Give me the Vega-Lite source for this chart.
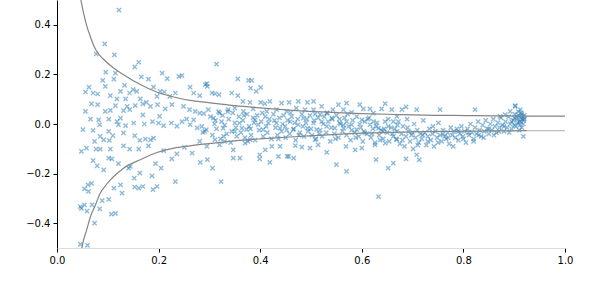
{
  "$schema": "https://vega.github.io/schema/vega-lite/v6.json",
  "width": 508,
  "height": 248,
  "autosize": "none",
  "padding": {"left": 57, "top": 0, "right": 31, "bottom": 50},
  "background": "white",
  "config": {
    "view": {"stroke": null},
    "font": "DejaVu Sans",
    "axis": {
      "grid": false,
      "title": null,
      "labelFont": "DejaVu Sans",
      "labelFontSize": 10,
      "labelColor": "#000000",
      "tickColor": "#000000",
      "tickSize": 4,
      "tickWidth": 1,
      "labelPadding": 3,
      "labelFlush": false,
      "labelOverlap": false
    }
  },
  "datasets": {
    "pts": [
      {"x":0.122,"y":0.459},{"x":0.094,"y":0.323},{"x":0.077,"y":0.283},{"x":0.113,"y":0.279},{"x":0.161,"y":0.249},{"x":0.153,"y":0.23},{"x":0.096,"y":0.209},{"x":0.115,"y":0.205},{"x":0.207,"y":0.205},{"x":0.166,"y":0.19},{"x":0.217,"y":0.183},{"x":0.24,"y":0.192},{"x":0.246,"y":0.195},{"x":0.09,"y":0.176},{"x":0.112,"y":0.181},{"x":0.18,"y":0.181},{"x":0.063,"y":0.149},{"x":0.056,"y":0.129},{"x":0.071,"y":0.125},{"x":0.08,"y":0.121},{"x":0.095,"y":0.152},{"x":0.133,"y":0.156},{"x":0.15,"y":0.139},{"x":0.157,"y":0.132},{"x":0.19,"y":0.149},{"x":0.203,"y":0.132},{"x":0.211,"y":0.129},{"x":0.233,"y":0.125},{"x":0.262,"y":0.149},{"x":0.269,"y":0.125},{"x":0.281,"y":0.114},{"x":0.292,"y":0.159},{"x":0.105,"y":0.114},{"x":0.125,"y":0.132},{"x":0.143,"y":0.125},{"x":0.118,"y":0.101},{"x":0.135,"y":0.101},{"x":0.164,"y":0.101},{"x":0.176,"y":0.087},{"x":0.197,"y":0.111},{"x":0.222,"y":0.111},{"x":0.068,"y":0.081},{"x":0.08,"y":0.078},{"x":0.115,"y":0.074},{"x":0.138,"y":0.071},{"x":0.154,"y":0.074},{"x":0.169,"y":0.081},{"x":0.184,"y":0.071},{"x":0.198,"y":0.078},{"x":0.213,"y":0.061},{"x":0.226,"y":0.078},{"x":0.249,"y":0.071},{"x":0.261,"y":0.058},{"x":0.272,"y":0.051},{"x":0.289,"y":0.042},{"x":0.095,"y":0.051},{"x":0.105,"y":0.055},{"x":0.056,"y":0.051},{"x":0.131,"y":0.054},{"x":0.143,"y":0.058},{"x":0.169,"y":0.037},{"x":0.066,"y":0.02},{"x":0.082,"y":0.017},{"x":0.084,"y":-0.003},{"x":0.071,"y":-0.026},{"x":0.051,"y":-0.023},{"x":0.102,"y":0.02},{"x":0.118,"y":0.01},{"x":0.125,"y":0.024},{"x":0.121,"y":-0.003},{"x":0.135,"y":-0.007},{"x":0.151,"y":0.004},{"x":0.172,"y":0.0},{"x":0.188,"y":0.01},{"x":0.2,"y":0.004},{"x":0.21,"y":-0.007},{"x":0.202,"y":0.031},{"x":0.225,"y":0.004},{"x":0.236,"y":-0.009},{"x":0.246,"y":0.01},{"x":0.255,"y":0.02},{"x":0.262,"y":-0.003},{"x":0.269,"y":0.017},{"x":0.276,"y":-0.016},{"x":0.287,"y":-0.034},{"x":0.294,"y":-0.023},{"x":0.102,"y":-0.03},{"x":0.085,"y":-0.05},{"x":0.092,"y":-0.064},{"x":0.074,"y":-0.07},{"x":0.103,"y":-0.066},{"x":0.11,"y":-0.047},{"x":0.131,"y":-0.036},{"x":0.153,"y":-0.047},{"x":0.163,"y":-0.066},{"x":0.174,"y":-0.061},{"x":0.184,"y":-0.064},{"x":0.19,"y":-0.057},{"x":0.18,"y":-0.088},{"x":0.143,"y":-0.101},{"x":0.161,"y":-0.101},{"x":0.131,"y":-0.088},{"x":0.105,"y":-0.101},{"x":0.085,"y":-0.101},{"x":0.077,"y":-0.101},{"x":0.048,"y":-0.11},{"x":0.058,"y":-0.097},{"x":0.21,"y":-0.107},{"x":0.226,"y":-0.141},{"x":0.251,"y":-0.094},{"x":0.236,"y":-0.12},{"x":0.266,"y":-0.117},{"x":0.282,"y":-0.155},{"x":0.102,"y":-0.138},{"x":0.108,"y":-0.141},{"x":0.071,"y":-0.148},{"x":0.079,"y":-0.169},{"x":0.092,"y":-0.185},{"x":0.121,"y":-0.16},{"x":0.141,"y":-0.178},{"x":0.144,"y":-0.171},{"x":0.194,"y":-0.16},{"x":0.205,"y":-0.178},{"x":0.187,"y":-0.209},{"x":0.163,"y":-0.198},{"x":0.152,"y":-0.218},{"x":0.233,"y":-0.232},{"x":0.197,"y":-0.252},{"x":0.189,"y":-0.265},{"x":0.161,"y":-0.259},{"x":0.153,"y":-0.254},{"x":0.169,"y":-0.252},{"x":0.125,"y":-0.245},{"x":0.128,"y":-0.279},{"x":0.112,"y":-0.259},{"x":0.068,"y":-0.239},{"x":0.061,"y":-0.245},{"x":0.062,"y":-0.272},{"x":0.054,"y":-0.262},{"x":0.069,"y":-0.326},{"x":0.054,"y":-0.326},{"x":0.046,"y":-0.333},{"x":0.048,"y":-0.34},{"x":0.084,"y":-0.342},{"x":0.102,"y":-0.304},{"x":0.089,"y":-0.309},{"x":0.059,"y":-0.351},{"x":0.107,"y":-0.363},{"x":0.115,"y":-0.36},{"x":0.074,"y":-0.4},{"x":0.046,"y":-0.485},{"x":0.06,"y":-0.489},
      {"x":0.314,"y":0.241},{"x":0.295,"y":0.163},{"x":0.296,"y":0.152},{"x":0.356,"y":0.182},{"x":0.377,"y":0.176},{"x":0.383,"y":0.176},{"x":0.381,"y":0.145},{"x":0.392,"y":0.132},{"x":0.401,"y":0.148},{"x":0.305,"y":0.125},{"x":0.311,"y":0.122},{"x":0.319,"y":0.118},{"x":0.344,"y":0.125},{"x":0.356,"y":0.114},{"x":0.366,"y":0.091},{"x":0.38,"y":0.087},{"x":0.401,"y":0.087},{"x":0.409,"y":0.082},{"x":0.419,"y":0.091},{"x":0.442,"y":0.084},{"x":0.457,"y":0.087},{"x":0.475,"y":0.091},{"x":0.493,"y":0.087},{"x":0.505,"y":0.091},{"x":0.521,"y":0.071},{"x":0.554,"y":0.078},{"x":0.57,"y":0.084},{"x":0.596,"y":0.078},{"x":0.616,"y":0.061},{"x":0.646,"y":0.082},{"x":0.659,"y":0.058},{"x":0.281,"y":0.044},{"x":0.298,"y":0.058},{"x":0.32,"y":0.044},{"x":0.337,"y":0.058},{"x":0.35,"y":0.064},{"x":0.367,"y":0.051},{"x":0.386,"y":0.061},{"x":0.413,"y":0.051},{"x":0.432,"y":0.058},{"x":0.452,"y":0.051},{"x":0.471,"y":0.064},{"x":0.488,"y":0.058},{"x":0.505,"y":0.058},{"x":0.518,"y":0.038},{"x":0.531,"y":0.044},{"x":0.543,"y":0.058},{"x":0.564,"y":0.058},{"x":0.58,"y":0.047},{"x":0.603,"y":0.061},{"x":0.623,"y":0.044},{"x":0.639,"y":0.061},{"x":0.669,"y":0.031},
      {"x":0.285,"y":-0.01},{"x":0.291,"y":-0.03},{"x":0.308,"y":0.024},{"x":0.324,"y":0.01},{"x":0.327,"y":-0.017},{"x":0.344,"y":-0.03},{"x":0.35,"y":-0.03},{"x":0.359,"y":0.004},{"x":0.364,"y":-0.017},{"x":0.373,"y":-0.023},{"x":0.381,"y":-0.02},{"x":0.39,"y":0.017},{"x":0.396,"y":-0.003},{"x":0.406,"y":-0.023},{"x":0.416,"y":0.004},{"x":0.432,"y":0.004},{"x":0.439,"y":-0.017},{"x":0.449,"y":-0.01},{"x":0.459,"y":0.01},{"x":0.465,"y":-0.023},{"x":0.475,"y":-0.003},{"x":0.485,"y":0.024},{"x":0.493,"y":-0.017},{"x":0.505,"y":0.004},{"x":0.511,"y":-0.023},{"x":0.521,"y":0.01},{"x":0.531,"y":-0.01},{"x":0.541,"y":0.024},{"x":0.547,"y":-0.017},{"x":0.556,"y":0.004},{"x":0.564,"y":-0.017},{"x":0.57,"y":0.01},{"x":0.58,"y":-0.003},{"x":0.59,"y":-0.023},{"x":0.6,"y":0.017},{"x":0.606,"y":-0.036},{"x":0.616,"y":-0.003},{"x":0.623,"y":0.01},{"x":0.633,"y":-0.017},{"x":0.642,"y":-0.03},{"x":0.652,"y":-0.01},{"x":0.662,"y":0.01},{"x":0.669,"y":-0.03},
      {"x":0.281,"y":-0.07},{"x":0.295,"y":-0.09},{"x":0.311,"y":-0.063},{"x":0.32,"y":-0.084},{"x":0.33,"y":-0.07},{"x":0.347,"y":-0.104},{"x":0.36,"y":-0.138},{"x":0.37,"y":-0.077},{"x":0.38,"y":-0.063},{"x":0.399,"y":-0.124},{"x":0.41,"y":-0.104},{"x":0.423,"y":-0.09},{"x":0.436,"y":-0.131},{"x":0.439,"y":-0.09},{"x":0.456,"y":-0.131},{"x":0.469,"y":-0.087},{"x":0.482,"y":-0.093},{"x":0.498,"y":-0.097},{"x":0.508,"y":-0.063},{"x":0.514,"y":-0.084},{"x":0.531,"y":-0.114},{"x":0.55,"y":-0.164},{"x":0.57,"y":-0.191},{"x":0.569,"y":-0.09},{"x":0.587,"y":-0.104},{"x":0.6,"y":-0.097},{"x":0.626,"y":-0.084},{"x":0.628,"y":-0.144},{"x":0.646,"y":-0.077},{"x":0.652,"y":-0.178},{"x":0.662,"y":-0.158},{"x":0.669,"y":-0.063},{"x":0.633,"y":-0.293},{"x":0.306,"y":-0.178},{"x":0.323,"y":-0.232},{"x":0.347,"y":-0.138},{"x":0.399,"y":-0.141},{"x":0.419,"y":-0.155},{"x":0.453,"y":-0.131},{"x":0.466,"y":-0.138},{"x":0.296,"y":-0.144},
      {"x":0.302,"y":0.03},{"x":0.306,"y":-0.045},{"x":0.31,"y":0.0},{"x":0.314,"y":-0.02},{"x":0.318,"y":0.05},{"x":0.322,"y":-0.06},{"x":0.326,"y":0.035},{"x":0.33,"y":-0.005},{"x":0.334,"y":-0.04},{"x":0.338,"y":0.02},{"x":0.342,"y":-0.075},{"x":0.346,"y":0.045},{"x":0.35,"y":0.005},{"x":0.354,"y":-0.05},{"x":0.358,"y":0.03},{"x":0.362,"y":-0.035},{"x":0.366,"y":0.015},{"x":0.37,"y":-0.055},{"x":0.374,"y":0.04},{"x":0.378,"y":-0.01},{"x":0.382,"y":-0.045},{"x":0.386,"y":0.025},{"x":0.39,"y":-0.065},{"x":0.394,"y":0.035},{"x":0.398,"y":-0.025},{"x":0.402,"y":0.01},{"x":0.406,"y":-0.05},{"x":0.41,"y":0.03},{"x":0.414,"y":-0.035},{"x":0.418,"y":0.02},{"x":0.422,"y":-0.06},{"x":0.426,"y":0.04},{"x":0.43,"y":-0.015},{"x":0.434,"y":-0.045},{"x":0.438,"y":0.025},{"x":0.442,"y":-0.03},{"x":0.446,"y":0.035},{"x":0.45,"y":-0.055},{"x":0.454,"y":0.015},{"x":0.458,"y":-0.04},{"x":0.462,"y":0.03},{"x":0.466,"y":-0.02},{"x":0.47,"y":-0.065},{"x":0.474,"y":0.02},{"x":0.478,"y":-0.035},{"x":0.482,"y":0.04},{"x":0.486,"y":-0.05},{"x":0.49,"y":0.005},{"x":0.494,"y":-0.03},{"x":0.498,"y":0.035},{"x":0.502,"y":-0.045},{"x":0.506,"y":0.015},{"x":0.51,"y":-0.06},{"x":0.514,"y":0.025},{"x":0.518,"y":-0.025},{"x":0.522,"y":-0.05},{"x":0.526,"y":0.03},{"x":0.53,"y":-0.035},{"x":0.534,"y":0.01},{"x":0.538,"y":-0.07},{"x":0.542,"y":0.02},{"x":0.546,"y":-0.04},{"x":0.55,"y":0.035},{"x":0.554,"y":-0.055},{"x":0.558,"y":0.0},{"x":0.562,"y":-0.03},{"x":0.566,"y":0.025},{"x":0.57,"y":-0.045},{"x":0.574,"y":-0.01},{"x":0.578,"y":-0.065},{"x":0.582,"y":0.015},{"x":0.586,"y":-0.035},{"x":0.59,"y":0.03},{"x":0.594,"y":-0.05},{"x":0.598,"y":-0.015},{"x":0.602,"y":-0.07},{"x":0.606,"y":0.01},{"x":0.61,"y":-0.04},{"x":0.614,"y":0.025},{"x":0.618,"y":-0.055},{"x":0.622,"y":-0.02},{"x":0.626,"y":-0.075},{"x":0.63,"y":0.005},{"x":0.634,"y":-0.045},{"x":0.638,"y":-0.025},{"x":0.642,"y":-0.06},{"x":0.646,"y":0.01},{"x":0.65,"y":-0.035},{"x":0.654,"y":-0.07},{"x":0.658,"y":-0.015},{"x":0.662,"y":-0.05},
      {"x":0.312,"y":0.015},{"x":0.328,"y":-0.05},{"x":0.336,"y":0.05},{"x":0.352,"y":-0.015},{"x":0.368,"y":0.035},{"x":0.376,"y":-0.07},{"x":0.388,"y":0.005},{"x":0.404,"y":0.045},{"x":0.412,"y":-0.01},{"x":0.428,"y":0.015},{"x":0.436,"y":-0.06},{"x":0.444,"y":0.0},{"x":0.452,"y":-0.025},{"x":0.46,"y":0.045},{"x":0.468,"y":0.005},{"x":0.476,"y":-0.045},{"x":0.484,"y":-0.01},{"x":0.492,"y":0.02},{"x":0.5,"y":-0.02},{"x":0.508,"y":0.04},{"x":0.516,"y":-0.04},{"x":0.524,"y":0.0},{"x":0.532,"y":0.045},{"x":0.54,"y":-0.015},{"x":0.548,"y":-0.06},{"x":0.556,"y":0.02},{"x":0.564,"y":-0.005},{"x":0.572,"y":0.04},{"x":0.58,"y":-0.025},{"x":0.588,"y":-0.055},{"x":0.596,"y":0.0},{"x":0.604,"y":-0.03},{"x":0.612,"y":0.02},{"x":0.62,"y":-0.04},{"x":0.628,"y":-0.01},{"x":0.636,"y":-0.065},{"x":0.644,"y":-0.02},{"x":0.652,"y":0.02},{"x":0.66,"y":-0.04},{"x":0.67,"y":-0.005},{"x":0.68,"y":-0.065},{"x":0.69,"y":-0.015},{"x":0.7,"y":-0.035},{"x":0.71,"y":-0.085},{"x":0.72,"y":-0.045},{"x":0.73,"y":-0.07},{"x":0.74,"y":-0.01},{"x":0.75,"y":-0.075},{"x":0.76,"y":-0.04},{"x":0.77,"y":-0.055},{"x":0.78,"y":-0.09},{"x":0.79,"y":-0.03},{"x":0.8,"y":-0.06},{"x":0.81,"y":-0.035},{"x":0.82,"y":-0.07},{"x":0.83,"y":-0.045},{"x":0.84,"y":-0.055},{"x":0.85,"y":-0.02},{"x":0.86,"y":-0.045},{"x":0.87,"y":-0.03},{"x":0.88,"y":-0.01},{"x":0.89,"y":-0.035},{"x":0.9,"y":-0.005},{"x":0.91,"y":-0.025},{"x":0.915,"y":0.04},{"x":0.92,"y":0.02},
      {"x":0.687,"y":0.069},{"x":0.679,"y":0.058},{"x":0.708,"y":0.058},{"x":0.754,"y":0.058},{"x":0.823,"y":0.058},{"x":0.902,"y":0.071},{"x":0.892,"y":0.051},{"x":0.912,"y":0.058},{"x":0.882,"y":0.038},{"x":0.872,"y":0.031},{"x":0.687,"y":-0.141},{"x":0.708,"y":-0.124},{"x":0.713,"y":-0.145},{"x":0.902,"y":0.074},{"x":0.918,"y":-0.05},
      {"x":0.665,"y":-0.02},{"x":0.668,"y":-0.06},{"x":0.672,"y":0.01},{"x":0.675,"y":-0.08},{"x":0.678,"y":-0.04},{"x":0.681,"y":-0.01},{"x":0.684,"y":-0.09},{"x":0.687,"y":-0.05},{"x":0.689,"y":0.02},{"x":0.692,"y":-0.03},{"x":0.695,"y":-0.07},{"x":0.698,"y":-0.045},{"x":0.701,"y":-0.1},{"x":0.703,"y":0.0},{"x":0.706,"y":-0.055},{"x":0.709,"y":-0.025},{"x":0.712,"y":-0.075},{"x":0.715,"y":-0.04},{"x":0.718,"y":-0.06},{"x":0.721,"y":0.015},{"x":0.724,"y":-0.035},{"x":0.727,"y":-0.085},{"x":0.73,"y":-0.05},{"x":0.733,"y":-0.02},{"x":0.736,"y":-0.065},{"x":0.739,"y":-0.04},{"x":0.742,"y":-0.09},{"x":0.745,"y":-0.03},{"x":0.748,"y":-0.055},{"x":0.751,"y":0.005},{"x":0.754,"y":-0.045},{"x":0.757,"y":-0.07},{"x":0.76,"y":-0.025},{"x":0.763,"y":-0.05},{"x":0.766,"y":-0.06},{"x":0.769,"y":-0.035},{"x":0.772,"y":-0.08},{"x":0.775,"y":-0.015},{"x":0.778,"y":-0.045},{"x":0.781,"y":-0.03},{"x":0.784,"y":-0.055},{"x":0.787,"y":-0.02},{"x":0.79,"y":-0.065},{"x":0.793,"y":-0.04},{"x":0.796,"y":-0.01},{"x":0.799,"y":-0.05},{"x":0.802,"y":-0.03},{"x":0.805,"y":-0.075},{"x":0.808,"y":-0.02},{"x":0.811,"y":-0.045},{"x":0.814,"y":0.0},{"x":0.817,"y":-0.035},{"x":0.82,"y":-0.06},{"x":0.823,"y":-0.015},{"x":0.826,"y":-0.04},{"x":0.829,"y":0.01},{"x":0.832,"y":-0.025},{"x":0.835,"y":-0.05},{"x":0.838,"y":-0.005},{"x":0.841,"y":-0.03},{"x":0.844,"y":0.015},{"x":0.847,"y":-0.02},{"x":0.85,"y":-0.04},{"x":0.853,"y":0.0},{"x":0.856,"y":-0.025},{"x":0.859,"y":0.02},{"x":0.862,"y":-0.01},{"x":0.865,"y":-0.035},{"x":0.868,"y":0.005},{"x":0.871,"y":-0.015},{"x":0.874,"y":0.025},{"x":0.877,"y":-0.005},{"x":0.88,"y":-0.03},{"x":0.883,"y":0.01},{"x":0.886,"y":-0.015},{"x":0.889,"y":0.03},{"x":0.892,"y":0.0},{"x":0.895,"y":-0.02},{"x":0.898,"y":0.015},{"x":0.901,"y":0.04},{"x":0.903,"y":-0.01},{"x":0.905,"y":0.02},{"x":0.907,"y":0.005},{"x":0.909,"y":0.035},{"x":0.911,"y":-0.005},{"x":0.912,"y":0.025},{"x":0.913,"y":0.01},{"x":0.914,"y":0.045},{"x":0.915,"y":-0.015},{"x":0.916,"y":0.02},{"x":0.917,"y":0.03},{"x":0.918,"y":0.0},{"x":0.919,"y":0.015},{"x":0.92,"y":0.035},{"x":0.908,"y":0.05},{"x":0.91,"y":0.01},{"x":0.905,"y":0.03},{"x":0.9,"y":0.025},{"x":0.895,"y":0.01}
    ],
    "curves": [
      {"s":"upper","x":0.047,"y":0.5},{"s":"upper","x":0.052,"y":0.45},{"s":"upper","x":0.058,"y":0.4},{"s":"upper","x":0.066,"y":0.35},{"s":"upper","x":0.076,"y":0.3},{"s":"upper","x":0.092,"y":0.26},{"s":"upper","x":0.11,"y":0.228},{"s":"upper","x":0.131,"y":0.199},{"s":"upper","x":0.164,"y":0.159},{"s":"upper","x":0.197,"y":0.128},{"s":"upper","x":0.23,"y":0.109},{"s":"upper","x":0.262,"y":0.095},{"s":"upper","x":0.295,"y":0.087},{"s":"upper","x":0.35,"y":0.074},{"s":"upper","x":0.4,"y":0.065},{"s":"upper","x":0.478,"y":0.053},{"s":"upper","x":0.55,"y":0.046},{"s":"upper","x":0.6,"y":0.042},{"s":"upper","x":0.675,"y":0.038},{"s":"upper","x":0.75,"y":0.035},{"s":"upper","x":0.806,"y":0.034},{"s":"upper","x":0.86,"y":0.033},{"s":"upper","x":0.925,"y":0.032},{"s":"upper","x":1.0,"y":0.032},
      {"s":"lower","x":0.049,"y":-0.5},{"s":"lower","x":0.052,"y":-0.47},{"s":"lower","x":0.058,"y":-0.43},{"s":"lower","x":0.066,"y":-0.373},{"s":"lower","x":0.075,"y":-0.33},{"s":"lower","x":0.085,"y":-0.279},{"s":"lower","x":0.095,"y":-0.25},{"s":"lower","x":0.105,"y":-0.225},{"s":"lower","x":0.131,"y":-0.178},{"s":"lower","x":0.164,"y":-0.144},{"s":"lower","x":0.197,"y":-0.115},{"s":"lower","x":0.23,"y":-0.097},{"s":"lower","x":0.262,"y":-0.088},{"s":"lower","x":0.295,"y":-0.08},{"s":"lower","x":0.35,"y":-0.068},{"s":"lower","x":0.4,"y":-0.06},{"s":"lower","x":0.478,"y":-0.05},{"s":"lower","x":0.55,"y":-0.042},{"s":"lower","x":0.6,"y":-0.037},{"s":"lower","x":0.675,"y":-0.033},{"s":"lower","x":0.75,"y":-0.03},{"s":"lower","x":0.806,"y":-0.029},{"s":"lower","x":0.86,"y":-0.028},{"s":"lower","x":0.925,"y":-0.027},
      {"s":"lowerExt","x":0.925,"y":-0.027},{"s":"lowerExt","x":1.0,"y":-0.027}
    ]
  },
  "layer": [
    {
      "data": {"name": "pts"},
      "mark": {"type": "point", "shape": "M-1,-1L1,1M-1,1L1,-1", "filled": false, "size": 18, "strokeWidth": 1.4, "color": "#1f77b4", "opacity": 0.5, "clip": true},
      "encoding": {
        "x": {"field": "x", "type": "quantitative", "scale": {"domain": [0, 1], "nice": false, "zero": false},
              "axis": {"values": [0, 0.2, 0.4, 0.6, 0.8, 1.0], "format": ".1f", "domainColor": "#dddddd", "domainWidth": 1}},
        "y": {"field": "y", "type": "quantitative", "scale": {"domain": [-0.5, 0.5], "nice": false, "zero": false},
              "axis": {"values": [-0.4, -0.2, 0, 0.2, 0.4], "format": ".1f", "domainColor": "#000000", "domainWidth": 1}}
      }
    },
    {
      "data": {"name": "curves"},
      "mark": {"type": "line", "clip": true, "strokeWidth": 1.2, "interpolate": "monotone"},
      "encoding": {
        "x": {"field": "x", "type": "quantitative"},
        "y": {"field": "y", "type": "quantitative"},
        "detail": {"field": "s"},
        "color": {"field": "s", "type": "nominal", "scale": {"domain": ["upper", "lower", "lowerExt"], "range": ["#858585", "#858585", "#bdbdbd"]}, "legend": null}
      }
    },
    {
      "mark": {"type": "rule", "color": "#000000", "strokeWidth": 1.5},
      "encoding": {"y": {"datum": 0.5}}
    },
    {
      "mark": {"type": "rule", "color": "#000000", "strokeWidth": 1},
      "encoding": {"x": {"datum": 1.0}}
    }
  ]
}
